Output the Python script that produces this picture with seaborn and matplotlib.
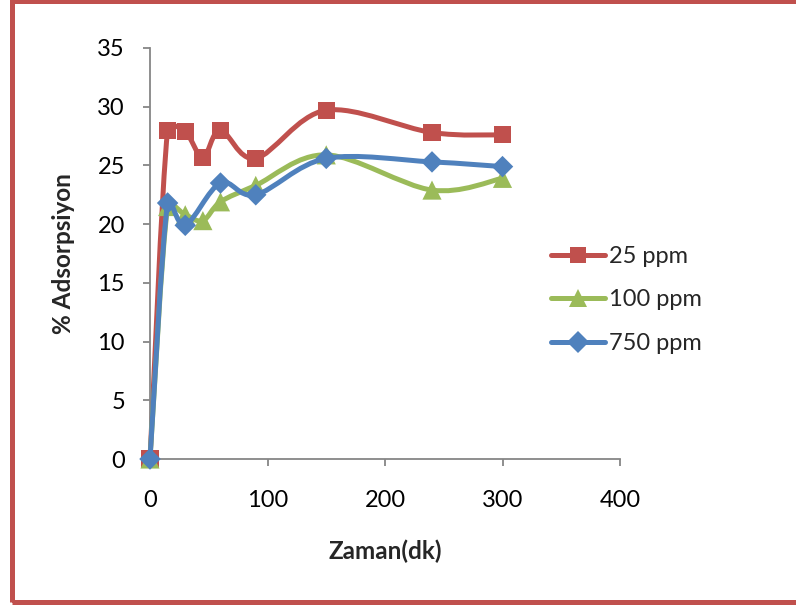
import matplotlib
matplotlib.use("Agg")
import matplotlib.pyplot as plt
from matplotlib.path import Path
from matplotlib.patches import PathPatch, Rectangle
from matplotlib.lines import Line2D
import numpy as np
import pandas as pd
import seaborn as sns

# Adsorption (%) over contact time (min) for three initial concentrations
time_25 = [0, 15, 30, 45, 60, 90, 150, 240, 300]
ads_25 = [0, 28.0, 27.9, 25.7, 28.0, 25.6, 29.7, 27.8, 27.6]

time_100 = [0, 15, 30, 45, 60, 90, 150, 240, 300]
ads_100 = [0, 21.5, 20.8, 20.3, 21.9, 23.3, 25.9, 22.9, 23.9]

time_750 = [0, 15, 30, 60, 90, 150, 240, 300]
ads_750 = [0, 21.8, 19.9, 23.5, 22.5, 25.6, 25.3, 24.9]

series_labels = ["25 ppm", "100 ppm", "750 ppm"]
x_ticks = [0, 100, 200, 300, 400]
y_ticks = [0, 5, 10, 15, 20, 25, 30, 35]

colors = ["#C0504D", "#9BBB59", "#4F81BD"]
markers = ["s", "^", "D"]
marker_sizes = [150, 190, 120]

sns.set_theme(style="white")
plt.rcParams["font.family"] = ["Lato", "DejaVu Sans"]

W, H = 796, 605
fig = plt.figure(figsize=(W / 100, H / 100), dpi=100)
ax = fig.add_axes([150 / W, (H - 459) / H, 470 / W, 411 / H])
ax.set_xlim(0, 400)
ax.set_ylim(0, 35)


def smooth_path(xs, ys, ax):
    """Cubic Bezier path through the points (spreadsheet-style smoothing).

    Tangent handles are 1/6 of the neighbour chord, capped at half the
    segment length, measured in display space.
    """
    data = np.column_stack([xs, ys]).astype(float)
    pts = ax.transData.transform(data)
    n = len(pts)
    verts = [pts[0]]
    codes = [Path.MOVETO]
    for i in range(n - 1):
        p0 = pts[i - 1] if i > 0 else pts[i]
        p1 = pts[i]
        p2 = pts[i + 1]
        p3 = pts[i + 2] if i + 2 < n else pts[i + 1]
        seg = np.hypot(*(p2 - p1))
        h1 = (p2 - p0) / 6.0
        h2 = (p3 - p1) / 6.0
        for h in (h1, h2):
            ln = np.hypot(*h)
            if ln > seg / 2 and ln > 0:
                h *= (seg / 2) / ln
        verts += [p1 + h1, p2 - h2, p2]
        codes += [Path.CURVE4] * 3
    verts = ax.transData.inverted().transform(np.array(verts))
    return Path(verts, codes)


datasets = [(time_25, ads_25), (time_100, ads_100), (time_750, ads_750)]
for k, (xs, ys) in enumerate(datasets):
    df = pd.DataFrame({"Zaman": xs, "Adsorpsiyon": ys})
    patch = PathPatch(smooth_path(df["Zaman"], df["Adsorpsiyon"], ax),
                      facecolor="none", edgecolor=colors[k], lw=3.6,
                      capstyle="round", joinstyle="round",
                      zorder=2 + 2 * k, clip_on=False)
    ax.add_patch(patch)
    sns.scatterplot(data=df, x="Zaman", y="Adsorpsiyon", ax=ax, marker=markers[k],
                    s=marker_sizes[k], color=colors[k], edgecolor="none",
                    zorder=3 + 2 * k, clip_on=False, legend=False)

ax.set_xlim(0, 400)
ax.set_ylim(0, 35)
ax.set_xticks(x_ticks)
ax.set_yticks(y_ticks)
ax.set_xticklabels([str(v) for v in x_ticks])
ax.set_yticklabels([str(v) for v in y_ticks])

axis_gray = "#868686"
for side in ["top", "right"]:
    ax.spines[side].set_visible(False)
for side in ["left", "bottom"]:
    ax.spines[side].set_color(axis_gray)
    ax.spines[side].set_linewidth(1.3)
ax.tick_params(axis="both", direction="out", length=5, width=1.3,
               color=axis_gray, labelsize=17, labelcolor="black")
ax.tick_params(axis="x", pad=17, bottom=True)
ax.tick_params(axis="y", pad=13, left=True)
ax.grid(False)

ax.set_xlabel("Zaman(dk)", fontsize=17.5, fontweight="bold")
ax.set_ylabel("% Adsorpsiyon", fontsize=17.5, fontweight="bold")
ax.xaxis.label.set_va("top")
ax.xaxis.set_label_coords(0.5, -0.195)
ax.yaxis.set_label_coords(-0.16, 0.5)

handles = [Line2D([0], [0], color=c, lw=3.6, marker=m, markersize=ms,
                  markeredgewidth=0, solid_capstyle="round")
           for c, m, ms in zip(colors, markers, [12, 13, 11])]
fig.legend(handles, series_labels, loc="upper left",
           bbox_to_anchor=(551 / W, 1 - 246 / H), frameon=False, fontsize=17,
           handlelength=2.3, handletextpad=0.15, labelspacing=0.95,
           borderpad=0, borderaxespad=0)

# chart frame
fig.add_artist(Rectangle((12.5 / W, (H - 601.5) / H), 1.0, 601 / H,
                         transform=fig.transFigure, fill=False,
                         edgecolor="#C0504D", lw=3.6, clip_on=False))

fig.savefig("out.png", dpi=100)
